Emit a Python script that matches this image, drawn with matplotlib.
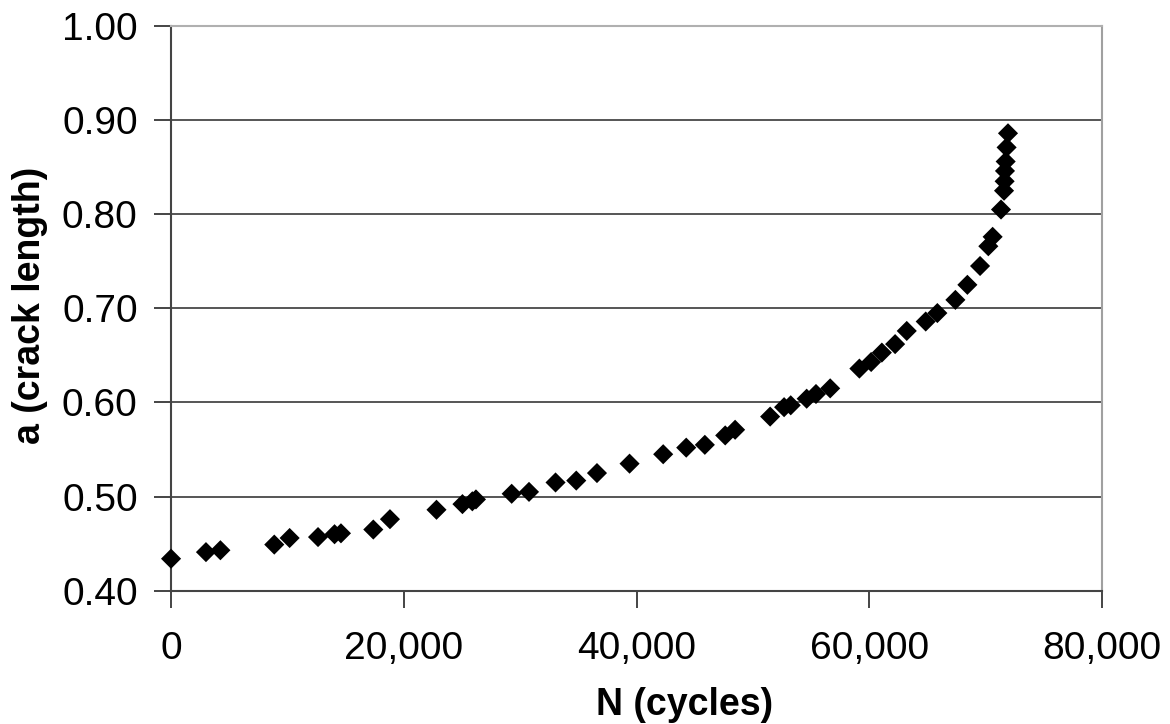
import matplotlib
matplotlib.use("Agg")
import matplotlib.pyplot as plt
from matplotlib.ticker import FuncFormatter

# Fatigue crack growth: crack length a versus number of cycles N
cycles = [0, 3000, 4240, 8870, 10190, 12630, 14050, 14600, 17380, 18810,
          22810, 25040, 25890, 26200, 29270, 30760, 33040, 34820, 36600,
          39400, 42290, 44270, 45870, 47620, 48470, 51480, 52680, 53250,
          54620, 55420, 56640, 59150, 60160, 61080, 62220, 63220, 64850,
          65850, 67400, 68430, 69520, 70230, 70600, 71320, 71580, 71630,
          71660, 71720, 71800, 71920]
crack_length = [0.434, 0.441, 0.443, 0.449, 0.456, 0.457, 0.460, 0.461,
                0.465, 0.476, 0.486, 0.492, 0.495, 0.497, 0.503, 0.505,
                0.515, 0.517, 0.525, 0.535, 0.545, 0.552, 0.555, 0.565,
                0.571, 0.585, 0.595, 0.597, 0.604, 0.609, 0.615, 0.636,
                0.643, 0.653, 0.662, 0.676, 0.686, 0.695, 0.709, 0.725,
                0.745, 0.766, 0.776, 0.805, 0.825, 0.835, 0.846, 0.856,
                0.871, 0.886]

x_ticks = [0, 20000, 40000, 60000, 80000]
y_ticks = [0.40, 0.50, 0.60, 0.70, 0.80, 0.90, 1.00]

plt.rcParams['font.family'] = ['Liberation Sans', 'DejaVu Sans']

fig = plt.figure(figsize=(11.7, 7.24), dpi=100)
ax = fig.add_axes([0.1462, 0.1841, 0.9419 - 0.1462, 0.9641 - 0.1841])

ax.scatter(cycles, crack_length, marker='D', s=105, color='black',
           edgecolors='none', zorder=3, clip_on=False)

ax.set_xlim(0, 80000)
ax.set_ylim(0.40, 1.00)
ax.set_xticks(x_ticks)
ax.set_yticks(y_ticks)
ax.xaxis.set_major_formatter(FuncFormatter(lambda v, p: f"{int(v):,}"))
ax.yaxis.set_major_formatter(FuncFormatter(lambda v, p: f"{v:.2f}"))

ax.grid(axis='y', color='#555555', linewidth=1.4, zorder=1)
ax.grid(axis='x', visible=False)

for side, col in (('left', '#444444'), ('bottom', '#444444'),
                  ('top', '#b0b0b0'), ('right', '#a0a0a0')):
    ax.spines[side].set_color(col)
    ax.spines[side].set_linewidth(1.5)

ax.tick_params(axis='both', direction='out', length=12, width=1.4,
               color='#444444', labelsize=28, labelcolor='black')
ax.tick_params(axis='y', pad=12)
ax.tick_params(axis='x', pad=17)

ax.set_xlabel('N (cycles)', fontsize=27, fontweight='bold')
ax.xaxis.label.set_va('baseline')
ax.xaxis.set_label_coords(0.552, -0.220)

ax.set_ylabel('a (crack length)', fontsize=27, fontweight='bold')
ax.yaxis.label.set_va('center')
ax.yaxis.set_label_coords(-0.1514, 0.506)

fig.savefig('out.png', dpi=100, facecolor='white')
